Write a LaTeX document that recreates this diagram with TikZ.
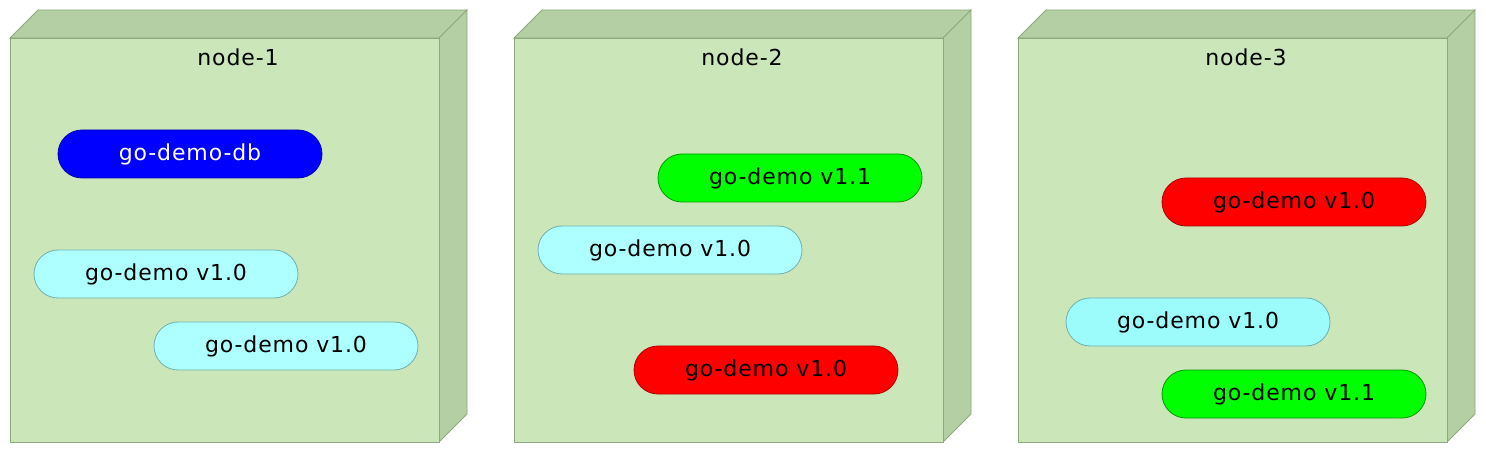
\documentclass[tikz,border=0pt]{standalone}
\usepackage{fontspec}
\setmainfont[LetterSpace=4]{DejaVu Sans}
\usetikzlibrary{shapes.misc}
\definecolor{hostfront}{HTML}{CBE6B8}
\definecolor{hostside}{HTML}{B4CFA3}
\definecolor{hostedge}{HTML}{8DAA7E}
\definecolor{podcyan}{HTML}{AEFFFF}
\definecolor{podcyanb}{HTML}{9CFCFC}
\definecolor{podedge}{HTML}{6FAFAF}
\tikzset{
  host/.style={fill=hostfront, draw=hostedge, line width=0.8bp},
  hostdepth/.style={fill=hostside, draw=hostedge, line width=0.8bp},
  hostlabel/.style={font=\fontsize{22bp}{26bp}\selectfont},
  pod/.style={rounded rectangle, minimum width=264bp, minimum height=48bp,
    inner sep=0pt, line width=0.8bp, font=\fontsize{22bp}{26bp}\selectfont},
  podold/.style={pod, fill=podcyan, draw=podedge},
  podoldb/.style={pod, fill=podcyanb, draw=podedge},
  podnew/.style={pod, fill=green, draw=green!60!black},
  podbad/.style={pod, fill=red, draw=red!70!black},
  poddb/.style={pod, fill=blue, draw=blue!70!black, text=white}
}

\begin{document}
\begin{tikzpicture}[x=1bp, y=-1bp]
    \useasboundingbox (0,0) rectangle (1486,454);
    % the three hosts
    \foreach \i/\x in {1/10, 2/514, 3/1018} {
      \draw [hostdepth] (\x,38) -- (\x+28,10) -- (\x+457,10) -- (\x+429,38) -- cycle;
      \draw [hostdepth] (\x+429,38) -- (\x+457,10) -- (\x+457,414) -- (\x+429,442) -- cycle;
      \draw [host] (\x,38) rectangle (\x+429,442);
      \node [hostlabel] (host\i) at (\x+228,57) {node-\i};
    }
    % node-1
    \node [poddb] (db) at (190,154) {go-demo-db};
    \node [podold] (a1) at (166,274) {go-demo v1.0};
    \node [podold] (a2) at (286,346) {go-demo v1.0};
    % node-2
    \node [podnew] (b1) at (790,178) {go-demo v1.1};
    \node [podold] (b2) at (670,250) {go-demo v1.0};
    \node [podbad] (b3) at (766,370) {go-demo v1.0};
    % node-3
    \node [podbad] (c1) at (1294,202) {go-demo v1.0};
    \node [podoldb] (c2) at (1198,322) {go-demo v1.0};
    \node [podnew] (c3) at (1294,394) {go-demo v1.1};
\end{tikzpicture}
\end{document}
